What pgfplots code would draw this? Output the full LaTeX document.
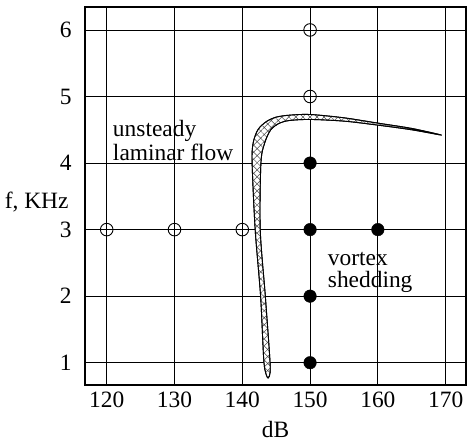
\documentclass[border=0pt]{standalone}
\usepackage{pgfplots}
\pgfplotsset{compat=1.18}
\usepackage{fontspec}
\setmainfont{Liberation Serif}
\usetikzlibrary{patterns.meta}
\begin{document}
\begin{tikzpicture}
\begin{axis}[
  scale only axis,
  width=381bp, height=378bp,
  xmin=116.8, xmax=173.0,
  ymin=0.665, ymax=6.345,
  xtick={120,130,140,150,160,170},
  ytick={1,2,3,4,5,6},
  major tick length=0pt,
  grid=major,
  major grid style={black, line width=0.8pt},
  axis line style={black, line width=1.8pt},
  tick label style={font=\fontsize{23.5}{26}\selectfont},
  /pgf/number format/assume math mode=true,
  xticklabel style={anchor=center, yshift=-15bp},
  yticklabel style={anchor=east, xshift=-10bp},
  xlabel={dB},
  xlabel style={font=\fontsize{23.5}{26}\selectfont, inner sep=0pt, at={(axis description cs:0.5,0)}, anchor=center, yshift=-44bp},
  ylabel={f, KHz},
  ylabel style={font=\fontsize{23.5}{26}\selectfont, rotate=-90, at={(axis description cs:0,0.484)}, anchor=east, xshift=-13bp},
  clip=false,
]
% stability boundary band
\addplot[black, line width=0.9pt, fill=white, postaction={pattern={Hatch[angle=45, distance=5pt, line width=0.5pt]}, pattern color=black!70}, smooth, tension=0.5] coordinates {
  (143.75,0.77) (143.2,1.0) (142.7,2.0) (141.9,3.0) (141.45,4.0) (141.6,4.3)
  (142.3,4.5) (143.5,4.62) (145,4.69) (147,4.72) (150,4.73) (155,4.68)
  (160,4.60) (165,4.52) (169.4,4.42)
  (165,4.50) (160,4.57) (155,4.63) (150,4.655) (147,4.64) (145.5,4.60)
  (144.2,4.50) (143.3,4.30) (142.75,4.0) (142.65,3.0) (143.4,2.0)
  (144.1,1.0) (144.0,0.80) (143.75,0.77)
};
% unsteady laminar flow (open circles)
\addplot[only marks, mark=o, mark size=6.3bp, mark options={line width=0.9pt, black, fill=white}] coordinates {
  (120,3) (130,3) (140,3) (150,5) (150,6)
};
% vortex shedding (filled circles)
\addplot[only marks, mark=*, mark size=6.3bp, mark options={black, fill=black}] coordinates {
  (150,1) (150,2) (150,3) (150,4) (160,3)
};
\node[anchor=west, align=left, font=\fontsize{23.5}{24}\selectfont, inner sep=0pt] at (axis cs:120.9,4.34) {unsteady\\laminar flow};
\node[anchor=west, align=left, font=\fontsize{23.5}{22}\selectfont, inner sep=0pt] at (axis cs:152.6,2.36) {vortex\\shedding};
\end{axis}
\path ([xshift=-85bp,yshift=-56bp]current axis.south west) rectangle ([xshift=2bp,yshift=7bp]current axis.north east);
\end{tikzpicture}
\end{document}
